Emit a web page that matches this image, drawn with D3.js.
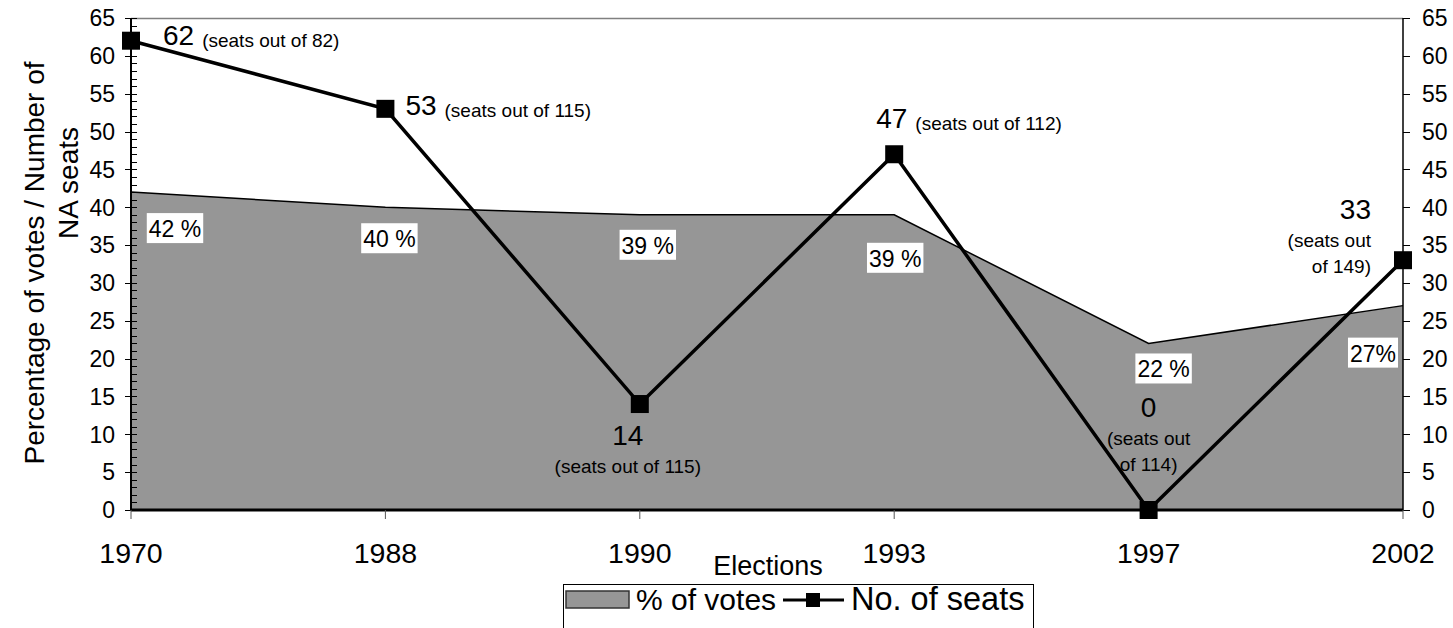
<!DOCTYPE html>
<html><head><meta charset="utf-8">
<script src="https://cdn.jsdelivr.net/npm/d3@7"></script>
<style>
html,body{margin:0;padding:0;background:#fff;}
svg{display:block;font-family:Arial,"Liberation Sans",sans-serif;}
</style></head>
<body><svg id="c" width="1453" height="628"></svg>
<script>
// ---- data ----
const years = ["1970","1988","1990","1993","1997","2002"];
const votePct = [42, 40, 39, 39, 22, 27];
const seats = [62, 53, 14, 47, 0, 33];
const seatsTotal = [82, 115, 115, 112, 114, 149];
const pctLabels = ["42 %","40 %","39 %","39 %","22 %","27%"];
const yTicks = [0,5,10,15,20,25,30,35,40,45,50,55,60,65];

// ---- layout (label placement relative to points) ----
const seatLabelLayout = [
  {type:"inline", dx:32, dy:4},
  {type:"inline", dx:20, dy:6},
  {type:"stack", dx:-12, dy:41, anchor:"middle", wrap:false},
  {type:"inline", dx:-18, dy:-26},
  {type:"stack", dx:0, dy:-93, anchor:"middle", wrap:true},
  {type:"stack", dx:-32, dy:-41, anchor:"end", wrap:true}
];
const pctLabelLayout = [[44,36],[4,31],[8,30],[1,43],[15,25],[-30,47]];

const svg = d3.select("#c");
const M = {left:131, right:1403, top:18, bottom:510};
const x = d3.scalePoint().domain(years).range([M.left, M.right]);
const y = d3.scaleLinear().domain([0,65]).range([M.bottom, M.top]);

// top border of plot area
svg.append("line").attr("x1",M.left).attr("x2",M.right).attr("y1",M.top+0.5).attr("y2",M.top+0.5)
  .attr("stroke","#808080").attr("stroke-width",1.5);

// area
const area = d3.area().x((d,i)=>x(years[i])).y0(y(0)).y1(d=>y(d));
svg.append("path").datum(votePct).attr("d",area).attr("fill","#969696");
svg.append("path").datum(votePct)
  .attr("d",d3.line().x((d,i)=>x(years[i])).y(d=>y(d)))
  .attr("fill","none").attr("stroke","#000").attr("stroke-width",1.5);

// left axis
const gL = svg.append("g").attr("transform",`translate(${M.left},0)`);
gL.append("line").attr("y1",y(0)).attr("y2",y(65)).attr("stroke","#000").attr("stroke-width",2);
const minor = d3.range(0,66).filter(v=>v%5!==0);
gL.selectAll(".mn").data(minor).join("line").attr("x1",0).attr("x2",6)
  .attr("y1",d=>Math.round(y(d))+0.5).attr("y2",d=>Math.round(y(d))+0.5).attr("stroke","#000").attr("stroke-width",1);
gL.selectAll(".mj").data(yTicks).join("line").attr("x1",-6).attr("x2",6)
  .attr("y1",d=>Math.round(y(d))+0.5).attr("y2",d=>Math.round(y(d))+0.5).attr("stroke","#000").attr("stroke-width",1);
gL.selectAll(".tl").data(yTicks).join("text").attr("x",-16).attr("y",d=>y(d)).attr("dy","0.36em")
  .attr("text-anchor","end").attr("font-size",23).text(d=>d);

// right axis
const gR = svg.append("g").attr("transform",`translate(${M.right},0)`);
gR.append("line").attr("y1",y(0)).attr("y2",y(65)).attr("stroke","#000").attr("stroke-width",1.5);
gR.selectAll(".mj").data(yTicks).join("line").attr("x1",0).attr("x2",7)
  .attr("y1",d=>Math.round(y(d))+0.5).attr("y2",d=>Math.round(y(d))+0.5).attr("stroke","#000").attr("stroke-width",1);
gR.selectAll(".tl").data(yTicks).join("text").attr("x",19).attr("y",d=>y(d)).attr("dy","0.36em")
  .attr("text-anchor","start").attr("font-size",23).text(d=>d);

// x axis
const gX = svg.append("g");
gX.append("line").attr("x1",M.left).attr("x2",M.right).attr("y1",M.bottom).attr("y2",M.bottom)
  .attr("stroke","#000").attr("stroke-width",3);
gX.selectAll(".xt").data(years).join("line").attr("x1",d=>x(d)).attr("x2",d=>x(d))
  .attr("y1",M.bottom).attr("y2",M.bottom+9).attr("stroke","#555").attr("stroke-width",1);
gX.selectAll(".xl").data(years).join("text").attr("x",d=>x(d)).attr("y",563)
  .attr("text-anchor","middle").attr("font-size",28.5).text(d=>d);
svg.append("text").attr("x",768).attr("y",575).attr("text-anchor","middle").attr("font-size",27).text("Elections");

// y title
svg.append("text").attr("transform","translate(44,263) rotate(-90)").attr("text-anchor","middle")
  .attr("font-size",28).text("Percentage of votes / Number of");
svg.append("text").attr("transform","translate(78,183) rotate(-90)").attr("text-anchor","middle")
  .attr("font-size",28).text("NA seats");

// pct labels
votePct.forEach((v,i)=>{
  const cx = x(years[i]) + pctLabelLayout[i][0];
  const base = y(v) + pctLabelLayout[i][1] + 9;
  const g = svg.append("g");
  const t = g.append("text").attr("x",cx).attr("y",base).attr("text-anchor","middle").attr("font-size",23).text(pctLabels[i]);
  const w = t.node().getComputedTextLength();
  g.insert("rect","text").attr("x",cx-w/2-2).attr("y",base-24).attr("width",w+4).attr("height",30).attr("fill","#fff");
});

// seats line
svg.append("path").datum(seats)
  .attr("d",d3.line().x((d,i)=>x(years[i])).y(d=>y(d)))
  .attr("fill","none").attr("stroke","#000").attr("stroke-width",3.5).attr("stroke-linejoin","miter");
svg.selectAll(".mk").data(seats).join("rect")
  .attr("x",(d,i)=>x(years[i])-9).attr("y",d=>y(d)-9).attr("width",18).attr("height",18).attr("fill","#000");

// seats labels
seats.forEach((v,i)=>{
  const L = seatLabelLayout[i];
  const px = x(years[i]) + L.dx, py = y(v) + L.dy;
  const sub = `(seats out of ${seatsTotal[i]})`;
  if (L.type === "inline") {
    const t = svg.append("text").attr("x",px).attr("y",py).attr("font-size",28).text(v);
    const w = t.node().getComputedTextLength();
    svg.append("text").attr("x",px+w+8).attr("y",py+2).attr("font-size",19).text(sub);
  } else {
    svg.append("text").attr("x",px).attr("y",py).attr("text-anchor",L.anchor).attr("font-size",28).text(v);
    const lines = L.wrap ? ["(seats out", `of ${seatsTotal[i]})`] : [sub];
    lines.forEach((s,k)=>{
      svg.append("text").attr("x",px).attr("y",py+28+k*26).attr("text-anchor",L.anchor).attr("font-size",19).text(s);
    });
  }
});

// legend
const lg = svg.append("g");
lg.append("rect").attr("x",563.5).attr("y",584.5).attr("width",470).attr("height",50).attr("fill","#fff").attr("stroke","#000").attr("stroke-width",1);
lg.append("rect").attr("x",566).attr("y",591).attr("width",63).attr("height",17).attr("fill","#969696").attr("stroke","#333").attr("stroke-width",1.5);
lg.append("text").attr("x",636).attr("y",610).attr("font-size",30).text("% of votes");
lg.append("line").attr("x1",783).attr("x2",844).attr("y1",600).attr("y2",600).attr("stroke","#000").attr("stroke-width",3);
lg.append("rect").attr("x",806).attr("y",593).attr("width",14).attr("height",14).attr("fill","#000");
lg.append("text").attr("x",851).attr("y",610).attr("font-size",32.5).text("No. of seats");
</script></body></html>
